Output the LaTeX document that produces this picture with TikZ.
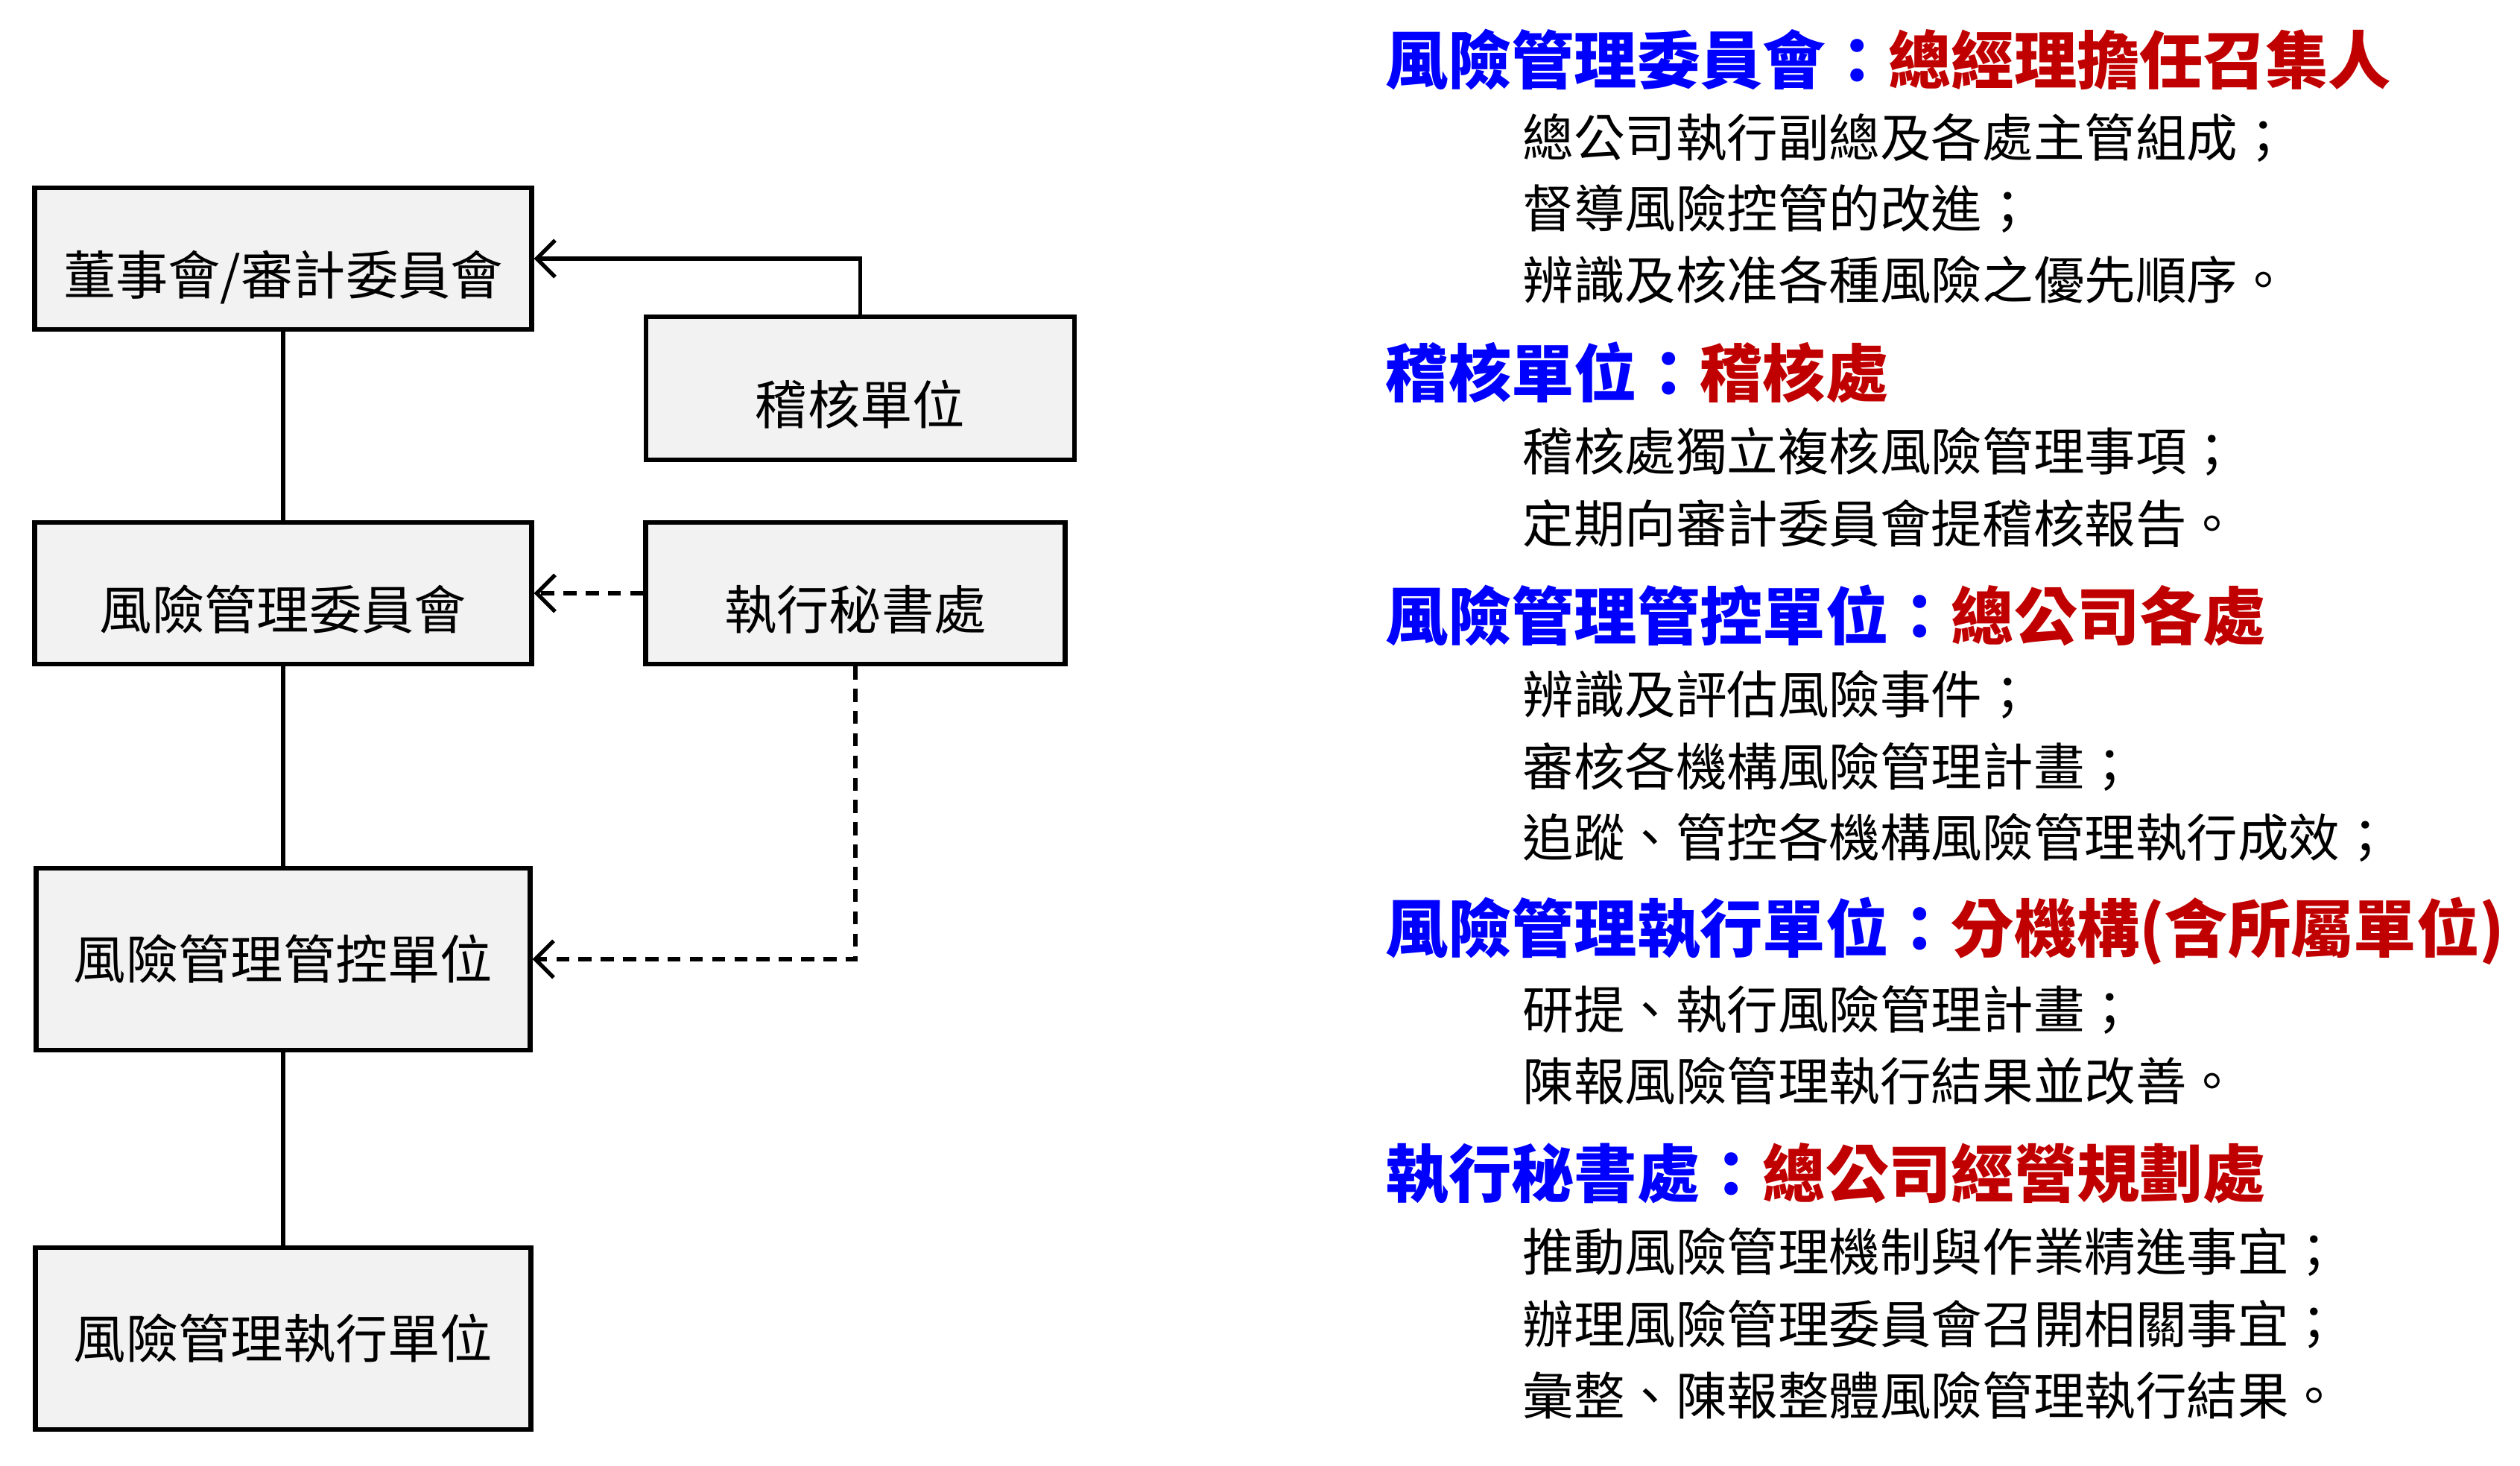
\documentclass[tikz,border=0pt]{standalone}
\usepackage{fontspec}
\setmainfont{Noto Sans CJK TC}
\usetikzlibrary{arrows.meta}
\definecolor{boxgray}{HTML}{F2F2F2}
\definecolor{headblue}{HTML}{0000FF}
\definecolor{headred}{HTML}{C00000}
\tikzset{
  unit/.style={draw, line width=1.8pt, fill=boxgray, inner sep=0pt, font=\fontsize{20}{24}\selectfont},
  lowunit/.style={unit, text height=1.08cm, text depth=0.1cm},
  head/.style={anchor=west, inner sep=0pt, text=headblue, font=\bfseries\fontsize{24}{28}\selectfont},
  duty/.style={anchor=west, inner sep=0pt, font=\fontsize{19.5}{24}\selectfont},
  link/.style={line width=1.5pt},
  dashlink/.style={line width=1.5pt, dash pattern=on 5pt off 3.5pt},
  >={Straight Barb[length=7pt,width=14pt]}
}
\newcommand{\red}[1]{{\color{headred}#1}}
\begin{document}
\begin{tikzpicture}
\useasboundingbox (0,0) rectangle (33.82,-19.67);
\node[lowunit, minimum width=6.67cm, minimum height=1.90cm] (board) at (3.80,-3.47) {董事會/審計委員會};
\node[lowunit, minimum width=5.75cm, minimum height=1.92cm] (audit) at (11.545,-5.21) {稽核單位};
\node[lowunit, minimum width=6.67cm, minimum height=1.90cm] (rmc) at (3.80,-7.96) {風險管理委員會};
\node[lowunit, minimum width=5.63cm, minimum height=1.90cm] (sec) at (11.48,-7.96) {執行秘書處};
\node[unit, minimum width=6.63cm, minimum height=2.44cm] (ctrl) at (3.80,-12.87) {風險管理管控單位};
\node[unit, minimum width=6.65cm, minimum height=2.44cm] (exec) at (3.80,-17.96) {風險管理執行單位};
\draw [link] (board) -- (rmc);
\draw [link] (rmc) -- (ctrl);
\draw [link] (ctrl) -- (exec);
\draw [link,->] (audit.north) |- (board.east);
\draw [dashlink,->] (sec.west) -- (rmc.east);
\draw [dashlink,->] (sec.south) |- (ctrl.east);
% right-hand notes
\node[head] (H1) at (18.59,-0.80) {風險管理委員會：\red{總經理擔任召集人}};
\node[duty] (D11) at (20.43,-1.85) {總公司執行副總及各處主管組成；};
\node[duty] (D12) at (20.43,-2.80) {督導風險控管的改進；};
\node[duty] (D13) at (20.43,-3.75) {辨識及核准各種風險之優先順序。};
\node[head] (H2) at (18.59,-5.00) {稽核單位：\red{稽核處}};
\node[duty] (D21) at (20.43,-6.06) {稽核處獨立複核風險管理事項；};
\node[duty] (D22) at (20.43,-7.03) {定期向審計委員會提稽核報告。};
\node[head] (H3) at (18.59,-8.26) {風險管理管控單位：\red{總公司各處}};
\node[duty] (D31) at (20.43,-9.32) {辨識及評估風險事件；};
\node[duty] (D32) at (20.43,-10.29) {審核各機構風險管理計畫；};
\node[duty] (D33) at (20.43,-11.24) {追蹤、管控各機構風險管理執行成效；};
\node[head] (H4) at (18.59,-12.49) {風險管理執行單位：\red{分機構(含所屬單位)}};
\node[duty] (D41) at (20.43,-13.55) {研提、執行風險管理計畫；};
\node[duty] (D42) at (20.43,-14.50) {陳報風險管理執行結果並改善。};
\node[head] (H5) at (18.59,-15.75) {執行秘書處：\red{總公司經營規劃處}};
\node[duty] (D51) at (20.43,-16.80) {推動風險管理機制與作業精進事宜；};
\node[duty] (D52) at (20.43,-17.77) {辦理風險管理委員會召開相關事宜；};
\node[duty] (D53) at (20.43,-18.72) {彙整、陳報整體風險管理執行結果。};
\end{tikzpicture}
\end{document}
